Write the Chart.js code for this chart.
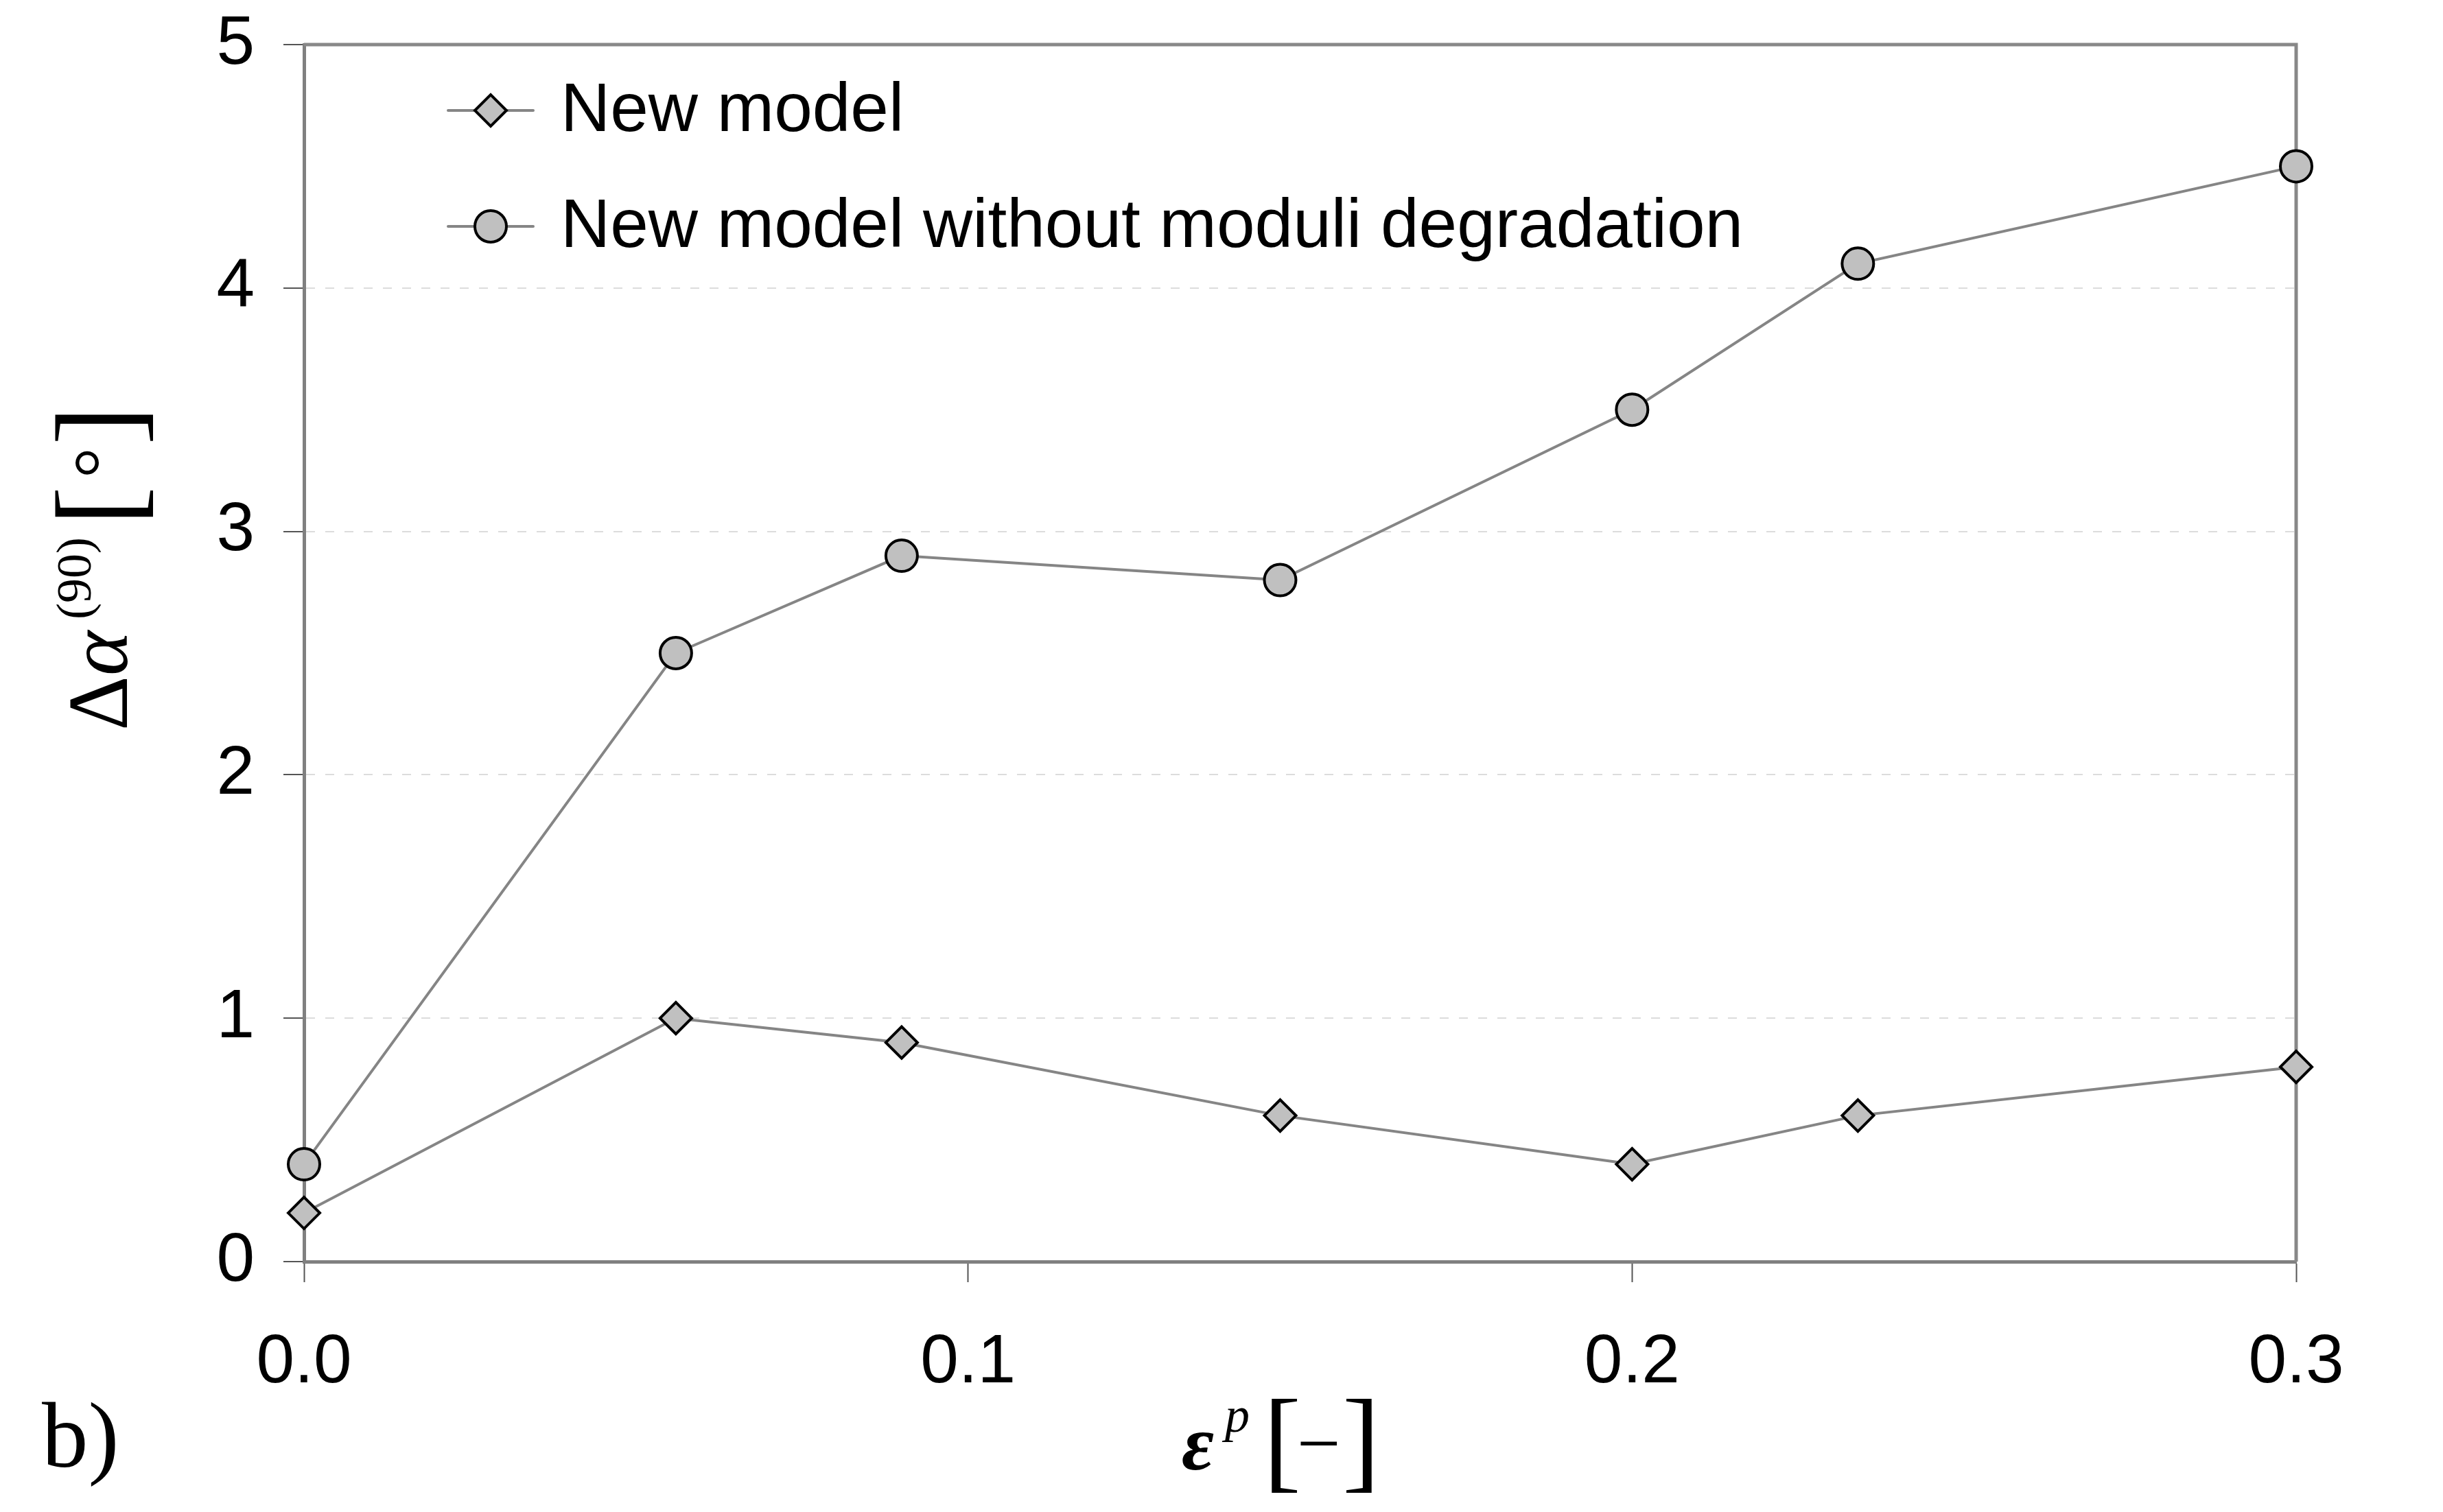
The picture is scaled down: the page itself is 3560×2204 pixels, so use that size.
<!DOCTYPE html>
<html>
<head>
<meta charset="utf-8">
<script src="https://cdn.jsdelivr.net/npm/chart.js@4.4.0/dist/chart.umd.min.js"></script>
<style>
  html, body { margin: 0; padding: 0; background: #fff; }
  canvas { display: block; }
</style>
</head>
<body>
<canvas id="chart" width="3560" height="2204"></canvas>
<script>
// values
const strain = [0, 0.056, 0.09, 0.147, 0.2, 0.234, 0.3]
const newModel = [0.2, 1.0, 0.9, 0.6, 0.4, 0.6, 0.8]
const noDegradation = [0.4, 2.5, 2.9, 2.8, 3.5, 4.1, 4.5]
const seriesNames = ['New model', 'New model without moduli degradation']

const xTickValues = [0, 0.1, 0.2, 0.3]
const xTickLabels = ['0.0', '0.1', '0.2', '0.3']
const yTickValues = [0, 1, 2, 3, 4, 5]
const yTickLabels = ['0', '1', '2', '3', '4', '5']

const SANS = '"Liberation Sans", Arial, sans-serif'
const SERIF = '"Liberation Serif", "Times New Roman", serif'

var toPoints = (ys) => strain.map((x, i) => ({ x: x, y: ys[i] }))

// draws a row of text pieces, each with its own font and offset
var drawRuns = (ctx, runs) => {
    for (const r of runs) {
        ctx.font = r.font
        ctx.fillText(r.text, r.dx, r.dy || 0)
    }
}

// keep the plot box where it is in the figure, labels may overhang
var noOverhang = (s) => {
    s.paddingTop = 0
    s.paddingBottom = 0
    s.paddingLeft = 0
    s.paddingRight = 0
}

const framePlugin = {
    id: 'frame',
    beforeDatasetsDraw: (chart) => {
        const { ctx, chartArea } = chart
        ctx.save()
        ctx.strokeStyle = '#888888'
        ctx.lineWidth = 5
        ctx.beginPath()
        ctx.moveTo(chartArea.left, chartArea.top)
        ctx.lineTo(chartArea.right, chartArea.top)
        ctx.lineTo(chartArea.right, chartArea.bottom)
        ctx.stroke()
        ctx.restore()
    }
}

const legendPlugin = {
    id: 'lineLegend',
    afterDraw: (chart) => {
        const ctx = chart.ctx
        chart.data.datasets.forEach((ds, i) => {
            const y = 161 + i * 169
            ctx.save()
            ctx.strokeStyle = ds.borderColor
            ctx.lineWidth = ds.borderWidth
            ctx.lineCap = 'round'
            ctx.beginPath()
            ctx.moveTo(653, y)
            ctx.lineTo(777, y)
            ctx.stroke()

            ctx.fillStyle = ds.pointBackgroundColor
            ctx.strokeStyle = ds.pointBorderColor
            ctx.lineWidth = ds.pointBorderWidth
            Chart.helpers.drawPoint(ctx, {
                pointStyle: ds.pointStyle,
                radius: ds.pointRadius,
                borderWidth: ds.pointBorderWidth,
                rotation: 0
            }, 715, y)

            ctx.fillStyle = '#000'
            ctx.font = '100px ' + SANS
            ctx.textAlign = 'left'
            ctx.textBaseline = 'alphabetic'
            ctx.fillText(ds.label, 817, y + 30)
            ctx.restore()
        })
    }
}

const titlesPlugin = {
    id: 'mathTitles',
    afterDraw: (chart) => {
        const ctx = chart.ctx
        ctx.save()
        ctx.fillStyle = '#000'
        ctx.textAlign = 'left'
        ctx.textBaseline = 'alphabetic'

        // y axis: Δα^(90) [°]
        ctx.save()
        ctx.translate(185, 1065)
        ctx.rotate(-Math.PI / 2)
        drawRuns(ctx, [
            { text: 'Δ', font: '124px ' + SERIF, dx: 0 },
            { text: 'α', font: 'italic 124px ' + SERIF, dx: 80 },
            { text: '(90)', font: '72px ' + SERIF, dx: 162, dy: -53 },
            { text: '[', font: '172px ' + SERIF, dx: 299, dy: 15 },
            { text: '°', font: '112px ' + SERIF, dx: 368 },
            { text: ']', font: '172px ' + SERIF, dx: 416, dy: 15 }
        ])
        ctx.restore()

        // x axis: ε^p [−]
        ctx.save()
        ctx.translate(1722, 2142)
        drawRuns(ctx, [
            { text: 'ε', font: 'italic bold 115px ' + SERIF, dx: 0 },
            { text: 'p', font: 'italic 72px ' + SERIF, dx: 63, dy: -55 },
            { text: '[', font: '165px ' + SERIF, dx: 119, dy: 12 },
            { text: '−', font: '113px ' + SERIF, dx: 168 },
            { text: ']', font: '165px ' + SERIF, dx: 234, dy: 12 }
        ])
        ctx.restore()

        // panel label
        ctx.font = '135px ' + SERIF
        ctx.fillText('b)', 61, 2138)
        ctx.restore()
    }
}

var canvas = document.getElementById('chart')

var chart = new Chart(canvas, {
    type: 'scatter',
    data: {
        datasets: [
            {
                label: seriesNames[0],
                data: toPoints(newModel),
                showLine: true,
                borderColor: '#858585',
                borderWidth: 4,
                pointStyle: 'rectRot',
                pointRadius: 23,
                pointHoverRadius: 23,
                pointBackgroundColor: '#c0c0c0',
                pointBorderColor: '#000000',
                pointBorderWidth: 4,
                clip: false
            },
            {
                label: seriesNames[1],
                data: toPoints(noDegradation),
                showLine: true,
                borderColor: '#858585',
                borderWidth: 4,
                pointStyle: 'circle',
                pointRadius: 23,
                pointHoverRadius: 23,
                pointBackgroundColor: '#c0c0c0',
                pointBorderColor: '#000000',
                pointBorderWidth: 4,
                clip: false
            }
        ]
    },
    options: {
        responsive: false,
        devicePixelRatio: 1,
        animation: false,
        layout: { padding: { left: 0, top: 65, right: 214, bottom: 0 } },
        plugins: {
            legend: { display: false },
            tooltip: { enabled: false }
        },
        scales: {
            x: {
                type: 'linear',
                min: 0,
                max: 0.3,
                afterBuildTicks: (s) => { s.ticks = xTickValues.map(v => ({ value: v })) },
                afterFit: (s) => { s.height = 365; noOverhang(s) },
                ticks: {
                    callback: (v, i) => xTickLabels[i],
                    color: '#000',
                    padding: 58,
                    maxRotation: 0,
                    font: { family: SANS, size: 100 }
                },
                grid: {
                    drawOnChartArea: false,
                    tickLength: 30,
                    tickColor: '#555555',
                    tickWidth: 2
                },
                border: { color: '#808080', width: 5 }
            },
            y: {
                min: 0,
                max: 5,
                afterBuildTicks: (s) => { s.ticks = yTickValues.map(v => ({ value: v })) },
                afterFit: (s) => { s.width = 443; noOverhang(s) },
                ticks: {
                    callback: (v, i) => yTickLabels[i],
                    color: '#000',
                    padding: 42,
                    font: { family: SANS, size: 100 }
                },
                grid: {
                    color: (c) => (c.tick && (c.tick.value === 0 || c.tick.value === 5)) ? 'rgba(0,0,0,0)' : '#dcdcdc',
                    lineWidth: 2,
                    tickLength: 30,
                    tickColor: '#555555',
                    tickWidth: 2,
                    tickBorderDash: []
                },
                border: { color: '#808080', width: 5, dash: [13, 15] }
            }
        }
    },
    plugins: [framePlugin, legendPlugin, titlesPlugin]
})
</script>
</body>
</html>
